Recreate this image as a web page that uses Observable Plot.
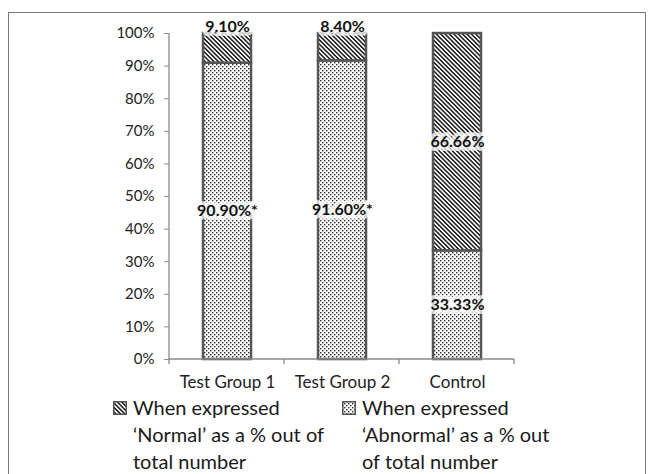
<!DOCTYPE html>
<html><head><meta charset="utf-8">
<script src="https://cdn.jsdelivr.net/npm/d3@7"></script>
<script src="https://cdn.jsdelivr.net/npm/@observablehq/plot@0.6"></script>
<style>
body{margin:0;background:#fff;width:650px;height:474px;overflow:hidden;position:relative;font-family:Lato,"Open Sans",sans-serif;}
#frame{position:absolute;left:8px;top:12px;width:638px;height:480px;border:1.5px solid #7a7a7a;box-sizing:border-box;}
#chart{position:absolute;left:0;top:0;}
.leg{position:absolute;font-size:20px;line-height:27px;color:#1a1a1a;white-space:nowrap;}
.leg svg{position:absolute;left:-20px;top:7px;}
</style></head><body>
<div id="frame"></div>
<div id="chart"></div>
<div id="legend"></div>
<script>
const categories = ["Test Group 1", "Test Group 2", "Control"];
const abnormal = [90.90, 91.60, 33.33];
const normal = [9.10, 8.40, 66.66];
const abnormalLabels = ["90.90%*", "91.60%*", "33.33%"];
const normalLabels = ["9.10%", "8.40%", "66.66%"];
const series = ["Abnormal", "Normal"];
const yTicks = [0, 10, 20, 30, 40, 50, 60, 70, 80, 90, 100];
const legendItems = [
  {series: "Normal", lines: ["When expressed", "\u2018Normal\u2019 as a % out of", "total number"]},
  {series: "Abnormal", lines: ["When expressed", "\u2018Abnormal\u2019 as a % out", "of total number"]}
];

const rows = categories.flatMap((c, i) => [
  {category: c, series: "Abnormal", value: abnormal[i], base: 0, label: abnormalLabels[i]},
  {category: c, series: "Normal", value: normal[i], base: abnormal[i], label: normalLabels[i]}
]);

const patternIds = {Abnormal: "dots", Normal: "hatch"};

function defsMark() {
  const defs = d3.create("svg:defs");
  const h = defs.append("pattern").attr("id", "hatch").attr("patternUnits", "userSpaceOnUse")
    .attr("width", 6).attr("height", 3.1).attr("patternTransform", "rotate(45)");
  h.append("rect").attr("width", 6).attr("height", 3.1).attr("fill", "#fff");
  h.append("rect").attr("width", 6).attr("height", 1.5).attr("fill", "#1a1a1a");
  const p = defs.append("pattern").attr("id", "dots").attr("patternUnits", "userSpaceOnUse")
    .attr("width", 4).attr("height", 4);
  p.append("rect").attr("width", 4).attr("height", 4).attr("fill", "#fff");
  p.append("rect").attr("x", 0).attr("y", 0).attr("width", 1.4).attr("height", 1.4).attr("fill", "#2a2a2a");
  p.append("rect").attr("x", 2).attr("y", 2).attr("width", 1.4).attr("height", 1.4).attr("fill", "#2a2a2a");
  return defs.node();
}

function axisLines(index, scales, values, dim) {
  const g = d3.create("svg:g").attr("stroke", "#8a8a8a").attr("stroke-width", 1.3);
  const x0 = dim.marginLeft, x1 = dim.width - dim.marginRight;
  const y0 = scales.y(0), yT = scales.y(100);
  g.append("line").attr("x1", x0).attr("x2", x0).attr("y1", yT).attr("y2", y0);
  g.append("line").attr("x1", x0).attr("x2", x1).attr("y1", y0).attr("y2", y0);
  const n = categories.length;
  d3.range(n + 1).forEach(i => {
    const x = x0 + i * (x1 - x0) / n;
    g.append("line").attr("x1", x).attr("x2", x).attr("y1", y0).attr("y2", y0 + 5);
  });
  return g.node();
}

const labelY = d => d.series === "Abnormal" ? d.value / 2 : (d.value < 20 ? d.base + d.value : d.base + d.value / 2);
const labelStyle = {fontSize: 16, fontWeight: "bold", fill: "#111", stroke: "white", strokeOpacity: 0.75, strokeWidth: 8};

const chart = Plot.plot({
  width: 650,
  height: 400,
  marginLeft: 169,
  marginRight: 136,
  marginTop: 33,
  marginBottom: 41,
  style: {fontFamily: "Lato, 'Open Sans', sans-serif", background: "transparent", overflow: "visible"},
  x: {domain: categories, paddingInner: 0.583, paddingOuter: 0.2915, label: null},
  y: {domain: [0, 100], label: null},
  color: {domain: series, range: series.map(s => `url(#${patternIds[s]})`)},
  marks: [
    defsMark,
    Plot.barY(rows, {x: "category", y: "value", fill: "series", stroke: "#555", strokeWidth: 2.5}),
    axisLines,
    Plot.axisY({ticks: yTicks, tickFormat: d => d + "%", tickSize: 5, tickPadding: 10, fontSize: 15, fill: "#222", stroke: "#8a8a8a", label: null}),
    Plot.axisX({tickSize: 0, tickPadding: 16, fontSize: 17, fill: "#222", label: null}),
    Plot.text(rows.filter(d => d.series === "Abnormal"), {x: "category", y: labelY, text: "label", ...labelStyle}),
    Plot.text(rows.filter(d => d.series === "Normal" && d.value < 20), {x: "category", y: labelY, dy: -7, text: "label", ...labelStyle}),
    Plot.text(rows.filter(d => d.series === "Normal" && d.value >= 20), {x: "category", y: labelY, text: "label", ...labelStyle})
  ]
});
document.getElementById("chart").appendChild(chart);

const legend = document.getElementById("legend");
const legendLefts = [133, 362];
legendItems.forEach((item, i) => {
  const div = document.createElement("div");
  div.className = "leg";
  div.style.left = legendLefts[i] + "px";
  div.style.top = "394px";
  div.innerHTML = `<svg width="14" height="14"><rect x="0.75" y="0.75" width="12.5" height="12.5" fill="url(#${patternIds[item.series]})" stroke="#555" stroke-width="1.5"/></svg>` + item.lines.join("<br>");
  legend.appendChild(div);
});
</script>
</body></html>
